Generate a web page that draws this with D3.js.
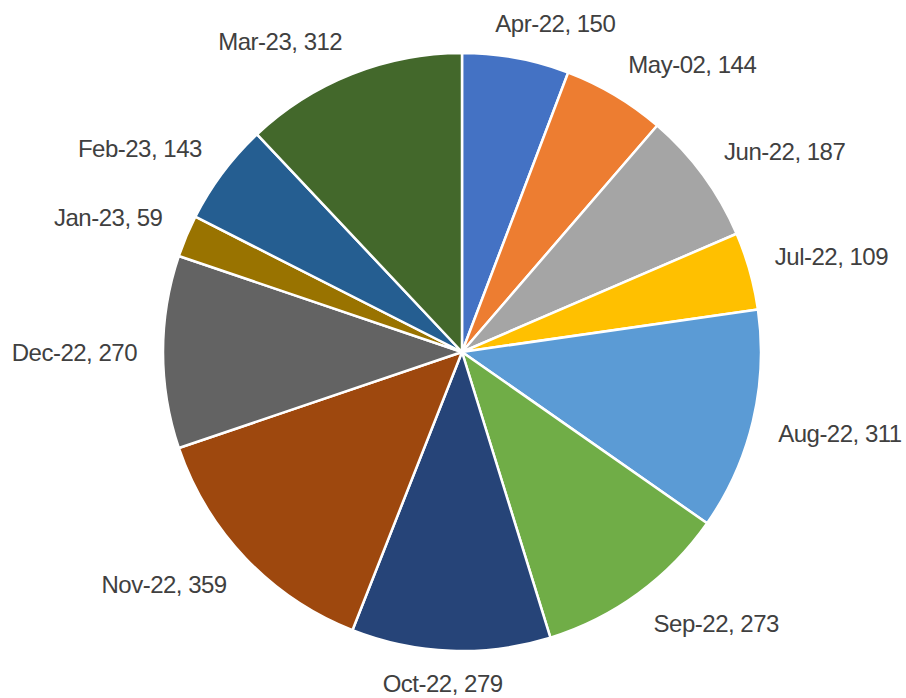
<!DOCTYPE html>
<html>
<head>
<meta charset="utf-8">
<script src="https://cdn.jsdelivr.net/npm/d3@7"></script>
<style>
  body { margin: 0; background: #fff; }
  .label { font-family: "Liberation Sans", Arial, sans-serif; font-size: 24px; fill: #404040; letter-spacing: -0.5px; }
</style>
</head>
<body>
<svg class="chart"></svg>
<script>
const months = ["Apr-22", "May-02", "Jun-22", "Jul-22", "Aug-22", "Sep-22", "Oct-22", "Nov-22", "Dec-22", "Jan-23", "Feb-23", "Mar-23"]
const counts = [150, 144, 187, 109, 311, 273, 279, 359, 270, 59, 143, 312]
const colours = ["#4472c4", "#ed7d31", "#a5a5a5", "#ffc000", "#5b9bd5", "#70ad47", "#264478", "#9e480e", "#636363", "#997300", "#255e91", "#43682b"]

const width = 906, height = 698
const cx = 462, cy = 352, radius = 299

const svg = d3.select(".chart")
    .attr("width", width)
    .attr("height", height)

const data = months.map((m, i) => ({ month: m, value: counts[i] }))

const pie = d3.pie()
    .value(d => d.value)
    .sort(null)

const arc = d3.arc()
    .innerRadius(0)
    .outerRadius(radius)

const arcs = pie(data)

const g = svg.append("g")
    .attr("transform", "translate(" + cx + "," + cy + ")")

g.selectAll(".slice")
  .data(arcs)
  .enter()
  .append("path")
    .attr("class", "slice")
    .attr("d", arc)
    .attr("fill", (d, i) => colours[i])
    .attr("stroke", "#fff")
    .attr("stroke-width", 2.5)
    .attr("stroke-linejoin", "round")

// outside-end labels: the box corner nearest the pie sits on the mid-angle ray
const clamp = v => Math.max(0, Math.min(1, v))
const capH = 17, gap = 26

g.selectAll(".label")
  .data(arcs)
  .enter()
  .append("text")
    .attr("class", "label")
    .text(d => d.data.month + ", " + d.data.value)
    .each(function (d) {
      const a = (d.startAngle + d.endAngle) / 2
      const s = Math.sin(a), c = Math.cos(a)
      const px = (radius + gap) * s, py = -(radius + gap) * c
      const w = this.getComputedTextLength()
      const left = px - w * clamp(0.5 - 1.6 * s)
      const top = py - capH * clamp(0.5 + 1.6 * c)
      // keep the comma's descender inside the window
      const base = Math.min(top + capH, height - cy - 6)
      d3.select(this)
        .attr("x", left)
        .attr("y", base)
    })
</script>
</body>
</html>
